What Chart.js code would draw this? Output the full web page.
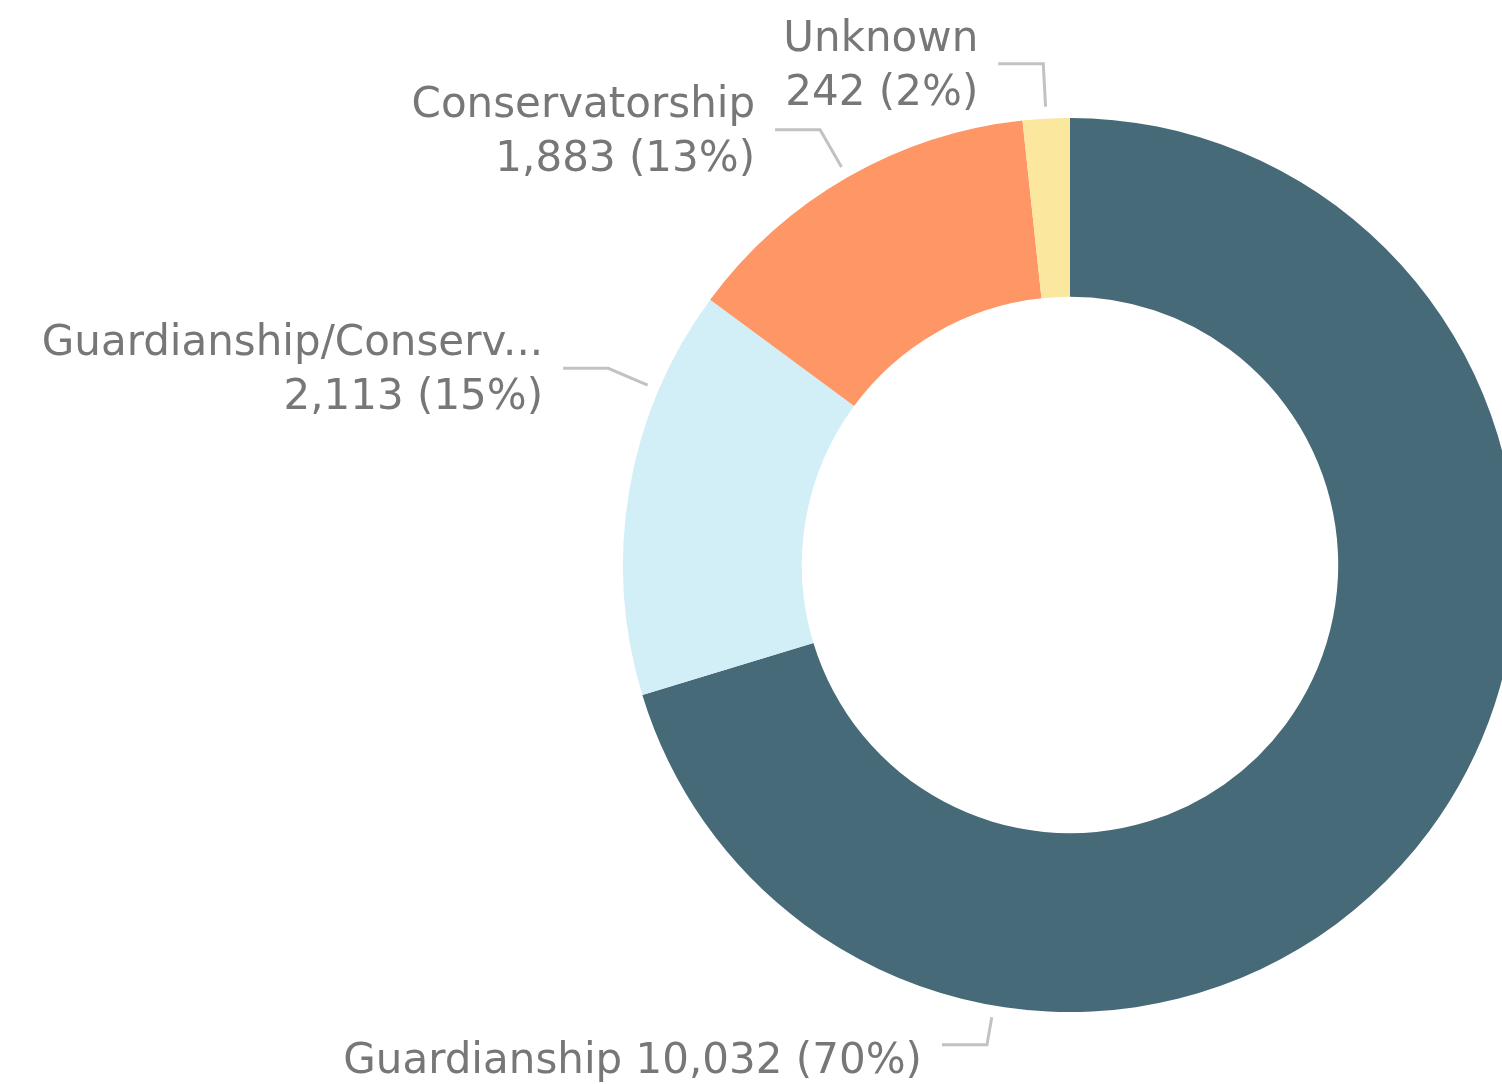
<!DOCTYPE html>
<html>
<head>
<meta charset="utf-8">
<script src="https://cdn.jsdelivr.net/npm/chart.js@4/dist/chart.umd.min.js"></script>
<style>
  html, body { margin: 0; padding: 0; background: #ffffff; overflow: hidden; }
  #wrap { position: absolute; left: 0; top: 0; width: 1530px; height: 1084px; }
</style>
</head>
<body>
<div id="wrap"><canvas id="c" width="1530" height="1084"></canvas></div>
<script>
// ---- data ----
const categories = ["Guardianship", "Guardianship/Conservatorship", "Conservatorship", "Unknown"];
const counts = [10032, 2113, 1883, 242];
const sliceColors = ["#466A77", "#D2EEF7", "#FE9666", "#FBE79E"];

// ---- label layout (styling, not data) ----
const leaderFraction = [0.75, 0.75, 0.5, 0.5];   // where along each arc the leader starts
const leaderRadial = [28, 43, 43, 43];           // radial length of leader (px)
const singleLine = [true, false, false, false];
const maxChars = 20;

const total = counts.reduce((a, b) => a + b, 0);
function fmt(n) { return n.toLocaleString('en-US'); }
function shortName(s) { return s.length > maxChars ? s.slice(0, maxChars) + '...' : s; }

const labelPlugin = {
  id: 'leaderLabels',
  afterDatasetsDraw(chart) {
    const ctx = chart.ctx;
    const meta = chart.getDatasetMeta(0);
    ctx.save();
    ctx.font = '42px "DejaVu Sans"';
    ctx.fillStyle = '#777777';
    ctx.strokeStyle = '#C2C2C2';
    ctx.lineWidth = 3;
    ctx.textAlign = 'right';
    ctx.textBaseline = 'alphabetic';
    meta.data.forEach((arc, i) => {
      const p = arc.getProps(['x', 'y', 'startAngle', 'endAngle', 'outerRadius'], true);
      const a = p.startAngle + (p.endAngle - p.startAngle) * leaderFraction[i];
      const r0 = p.outerRadius + 12;
      const r1 = r0 + leaderRadial[i];
      const x0 = p.x + r0 * Math.cos(a), y0 = p.y + r0 * Math.sin(a);
      const x1 = p.x + r1 * Math.cos(a), y1 = p.y + r1 * Math.sin(a);
      const x2 = x1 - 45;
      ctx.beginPath();
      ctx.moveTo(x0, y0);
      ctx.lineTo(x1, y1);
      ctx.lineTo(x2, y1);
      ctx.stroke();
      const pct = Math.round(counts[i] / total * 100);
      const valueText = fmt(counts[i]) + ' (' + pct + '%)';
      const tx = x2 - 20;
      if (singleLine[i]) {
        ctx.fillText(shortName(categories[i]) + ' ' + valueText, tx, y1 + 28);
      } else {
        ctx.fillText(shortName(categories[i]), tx, y1 - 13);
        ctx.fillText(valueText, tx, y1 + 41);
      }
    });
    ctx.restore();
  }
};

new Chart(document.getElementById('c'), {
  type: 'doughnut',
  data: {
    labels: categories,
    datasets: [{
      data: counts,
      backgroundColor: sliceColors,
      borderWidth: 0,
      hoverOffset: 0
    }]
  },
  options: {
    responsive: false,
    devicePixelRatio: 1,
    animation: false,
    cutout: '60%',
    layout: { padding: { left: 623, right: 13, top: 118, bottom: 72 } },
    plugins: {
      legend: { display: false },
      tooltip: { enabled: false }
    }
  },
  plugins: [labelPlugin]
});
</script>
</body>
</html>
